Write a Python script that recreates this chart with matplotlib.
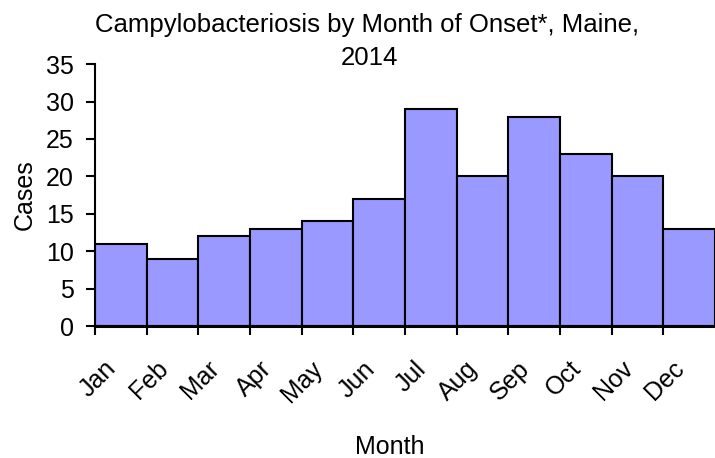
import numpy as np
import matplotlib.pyplot as plt
from matplotlib.transforms import ScaledTranslation

# data
months = ["Jan", "Feb", "Mar", "Apr", "May", "Jun",
          "Jul", "Aug", "Sep", "Oct", "Nov", "Dec"]
cases = [11, 9, 12, 13, 14, 17, 29, 20, 28, 23, 20, 13]
y_ticks = [0, 5, 10, 15, 20, 25, 30, 35]

plt.rcParams["font.family"] = ["Liberation Sans", "DejaVu Sans"]

fig = plt.figure(figsize=(7.15, 4.58), dpi=100)
ax = fig.add_axes([0.133, 0.288, 0.867, 0.572])

x = np.arange(len(months))
ax.bar(x, cases, width=1.0, color="#9999FF", edgecolor="black", linewidth=1.5)

ax.set_xlim(-0.5, len(months) - 0.5)
ax.set_ylim(0, 35)
ax.set_yticks(y_ticks)
ax.tick_params(axis="y", labelsize=18, length=6.5, width=1.5, direction="out", pad=9)

# month labels in the middle of each bar, tick marks on the bar edges
ax.set_xticks(x)
ax.set_xticklabels(months, rotation=45, ha="right", va="center", rotation_mode="anchor")
ax.tick_params(axis="x", which="major", length=0, labelsize=18, pad=28)
shift = ScaledTranslation(-6 / 72, 0, fig.dpi_scale_trans)
for lbl in ax.get_xticklabels():
    lbl.set_transform(lbl.get_transform() + shift)
ax.set_xticks(np.arange(len(months)) - 0.5, minor=True)
ax.tick_params(axis="x", which="minor", length=6.5, width=1.5, direction="out")

for side in ["top", "right"]:
    ax.spines[side].set_visible(False)
ax.spines["left"].set_linewidth(1.5)
ax.spines["bottom"].set_linewidth(2.2)

ax.set_ylabel("Cases", fontsize=18)
ax.yaxis.set_label_coords(-0.094, 0.5)
ax.set_xlabel("Month", fontsize=18)
ax.xaxis.set_label_coords(0.476, -0.415)

fig.text(0.514, 1 - 32 / 458, "Campylobacteriosis by Month of Onset*, Maine,",
         ha="center", va="baseline", fontsize=18.5)
fig.text(0.517, 1 - 65 / 458, "2014", ha="center", va="baseline", fontsize=18.5)

fig.savefig("out.png", dpi=100)
